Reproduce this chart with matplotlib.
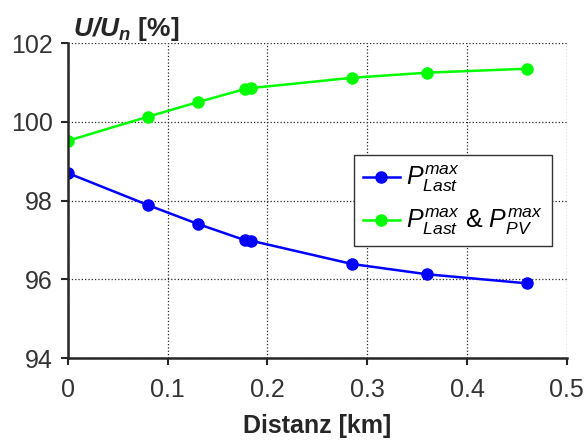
import matplotlib
matplotlib.use("Agg")
import matplotlib.pyplot as plt

plt.rcParams["font.family"] = ["Liberation Sans", "DejaVu Sans"]
plt.rcParams["mathtext.fontset"] = "custom"
plt.rcParams["mathtext.rm"] = "Liberation Sans"
plt.rcParams["mathtext.it"] = "Liberation Sans:italic"
plt.rcParams["mathtext.bf"] = "Liberation Sans:bold:italic"

# Daten (Distanz in km, Spannung in %)
distanz = [0.0, 0.08, 0.13, 0.177, 0.184, 0.285, 0.36, 0.46]
u_last = [98.70, 97.89, 97.41, 97.00, 96.98, 96.39, 96.13, 95.90]
u_last_pv = [99.52, 100.13, 100.50, 100.83, 100.86, 101.12, 101.25, 101.35]

dunkel = "#262626"

fig = plt.figure(figsize=(5.85, 4.4), dpi=100)
ax = fig.add_axes([0.116, 0.186, 0.853, 0.716])

ax.plot(distanz, u_last, "-o", color=(0, 0, 1), lw=1.8, ms=8,
        label=r"$P_{Last}^{max}$")
ax.plot(distanz, u_last_pv, "-o", color=(0, 1, 0), lw=1.8, ms=8,
        label=r"$P_{Last}^{max}$ & $P_{PV}^{max}$")

ax.set_xlim(0, 0.5)
ax.set_ylim(94, 102)
ax.set_xticks([0, 0.1, 0.2, 0.3, 0.4, 0.5])
ax.set_xticklabels(["0", "0.1", "0.2", "0.3", "0.4", "0.5"])
ax.set_yticks([94, 96, 98, 100, 102])
ax.tick_params(labelsize=18, direction="out", length=5, width=1.5,
               colors=dunkel, labelcolor="#333333")
ax.tick_params(axis="x", pad=9)
ax.tick_params(axis="y", pad=6)
ax.grid(True, linestyle=":", color=dunkel, lw=0.9)

for s in ["top", "right"]:
    ax.spines[s].set_visible(False)
for s in ["left", "bottom"]:
    ax.spines[s].set_linewidth(1.8)
    ax.spines[s].set_color(dunkel)

ax.set_xlabel("Distanz [km]", fontsize=18, fontweight="bold", color=dunkel,
              labelpad=9)
ax.text(0.01, 1.0, r"$\mathbf{U/U_n}$ [%]",
        transform=ax.transAxes, fontsize=19, fontweight="bold",
        ha="left", va="bottom", color=dunkel)

leg = ax.legend(loc="center right", bbox_to_anchor=(0.97, 0.50), fontsize=18,
                fancybox=False, framealpha=1, edgecolor="#333333",
                handlelength=1.5, borderpad=0.35, labelspacing=0.5,
                handletextpad=0.25, borderaxespad=0)
leg.get_frame().set_linewidth(1.0)

fig.savefig("out.png", dpi=100)
